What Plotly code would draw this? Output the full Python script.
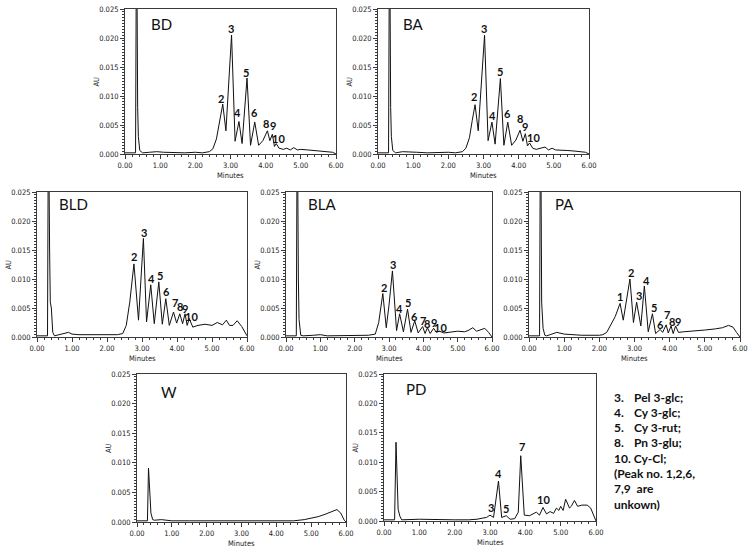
import plotly.graph_objects as go

FIG_W, FIG_H = 750, 551

# ---------------- data (retention time in minutes, absorbance in AU) ----------------
bd_t = [0.00, 0.20, 0.30, 0.32, 0.34, 0.36, 0.38, 0.42, 0.50, 0.70,
        0.90, 1.10, 1.40, 1.70, 2.00, 2.20, 2.40, 2.50, 2.60, 2.70,
        2.78, 2.87, 2.95, 3.03, 3.13, 3.24, 3.33, 3.47, 3.57, 3.69,
        3.80, 3.92, 4.05, 4.12, 4.19, 4.25, 4.30, 4.38, 4.50, 4.60,
        4.70, 4.80, 4.90, 5.00, 5.20, 5.40, 5.60, 5.80, 5.90, 6.00]
bd_au = [0.0002, 0.0002, 0.0002, 0.0300, 0.0300, 0.0080, 0.0030, 0.0006, 0.0002, 0.0003,
         0.0004, 0.0003, 0.0002, 0.0002, 0.0003, 0.0002, 0.0004, 0.0009, 0.0026, 0.0056,
         0.0086, 0.0040, 0.0120, 0.0205, 0.0022, 0.0056, 0.0018, 0.0131, 0.0015, 0.0055,
         0.0015, 0.0023, 0.0040, 0.0023, 0.0034, 0.0013, 0.0018, 0.0010, 0.0008, 0.0010,
         0.0007, 0.0011, 0.0007, 0.0008, 0.0007, 0.0006, 0.0005, 0.0004, 0.0003, 0.0000]
bd_peaks = ["2", "3", "4", "5", "6", "8", "9", "10"]
bd_peak_t = [2.72, 3.02, 3.20, 3.45, 3.67, 4.00, 4.20, 4.37]
bd_peak_au = [0.0096, 0.0216, 0.0071, 0.0141, 0.0071, 0.0052, 0.0049, 0.0026]

ba_t = [0.00, 0.20, 0.30, 0.32, 0.34, 0.36, 0.38, 0.42, 0.50, 0.70,
        0.90, 1.10, 1.40, 1.70, 2.00, 2.20, 2.40, 2.50, 2.60, 2.68,
        2.76, 2.85, 2.95, 3.03, 3.13, 3.24, 3.33, 3.48, 3.58, 3.69,
        3.80, 3.92, 4.04, 4.12, 4.19, 4.25, 4.31, 4.40, 4.50, 4.60,
        4.75, 4.85, 4.95, 5.05, 5.20, 5.40, 5.60, 5.80, 5.90, 6.00]
ba_au = [0.0002, 0.0002, 0.0002, 0.0300, 0.0300, 0.0080, 0.0030, 0.0006, 0.0002, 0.0004,
         0.0003, 0.0003, 0.0002, 0.0003, 0.0003, 0.0002, 0.0004, 0.0010, 0.0028, 0.0058,
         0.0085, 0.0040, 0.0125, 0.0205, 0.0023, 0.0055, 0.0017, 0.0130, 0.0015, 0.0055,
         0.0015, 0.0024, 0.0041, 0.0022, 0.0035, 0.0014, 0.0019, 0.0010, 0.0008, 0.0010,
         0.0012, 0.0007, 0.0010, 0.0007, 0.0007, 0.0006, 0.0005, 0.0004, 0.0003, 0.0000]
ba_peaks = ["2", "3", "4", "5", "6", "8", "9", "10"]
ba_peak_t = [2.74, 3.01, 3.25, 3.48, 3.68, 4.03, 4.18, 4.41]
ba_peak_au = [0.0099, 0.0216, 0.0067, 0.0142, 0.0070, 0.0061, 0.0047, 0.0028]

bld_t = [0.00, 0.20, 0.30, 0.32, 0.34, 0.36, 0.38, 0.41, 0.45, 0.50,
         0.70, 0.90, 1.00, 1.20, 1.60, 2.00, 2.30, 2.45, 2.55, 2.65,
         2.77, 2.90, 2.97, 3.04, 3.13, 3.25, 3.35, 3.48, 3.58, 3.68,
         3.78, 3.90, 3.99, 4.08, 4.16, 4.23, 4.29, 4.35, 4.45, 4.60,
         4.80, 5.00, 5.15, 5.30, 5.41, 5.50, 5.60, 5.72, 5.85, 6.00]
bld_au = [0.0002, 0.0002, 0.0002, 0.0300, 0.0300, 0.0150, 0.0060, 0.0050, 0.0008, 0.0002,
          0.0005, 0.0008, 0.0005, 0.0004, 0.0004, 0.0004, 0.0004, 0.0006, 0.0020, 0.0060,
          0.0126, 0.0029, 0.0100, 0.0170, 0.0026, 0.0090, 0.0023, 0.0095, 0.0022, 0.0066,
          0.0020, 0.0043, 0.0024, 0.0040, 0.0023, 0.0040, 0.0020, 0.0032, 0.0017, 0.0020,
          0.0022, 0.0020, 0.0025, 0.0021, 0.0029, 0.0020, 0.0020, 0.0028, 0.0018, 0.0002]
bld_peaks = ["2", "3", "4", "5", "6", "7", "8", "9", "10"]
bld_peak_t = [2.77, 3.07, 3.28, 3.51, 3.70, 3.94, 4.09, 4.23, 4.42]
bld_peak_au = [0.0138, 0.0181, 0.0101, 0.0106, 0.0078, 0.0059, 0.0052, 0.0050, 0.0036]

bla_t = [0.00, 0.20, 0.30, 0.32, 0.34, 0.36, 0.38, 0.43, 0.50, 0.80,
         1.00, 1.20, 1.60, 2.00, 2.40, 2.60, 2.70, 2.82, 2.92, 3.00,
         3.10, 3.22, 3.31, 3.42, 3.54, 3.64, 3.75, 3.85, 3.98, 4.05,
         4.12, 4.20, 4.30, 4.38, 4.47, 4.60, 4.80, 5.00, 5.20, 5.30,
         5.44, 5.55, 5.65, 5.79, 5.90, 6.00]
bla_au = [0.0002, 0.0002, 0.0002, 0.0300, 0.0300, 0.0100, 0.0030, 0.0003, 0.0002, 0.0003,
          0.0004, 0.0002, 0.0002, 0.0002, 0.0003, 0.0005, 0.0025, 0.0075, 0.0016, 0.0055,
          0.0114, 0.0011, 0.0040, 0.0009, 0.0048, 0.0008, 0.0028, 0.0007, 0.0018, 0.0006,
          0.0016, 0.0006, 0.0015, 0.0008, 0.0010, 0.0007, 0.0008, 0.0010, 0.0009, 0.0011,
          0.0016, 0.0010, 0.0012, 0.0015, 0.0008, 0.0000]
bla_peaks = ["2", "3", "4", "5", "6", "7", "8", "9", "10"]
bla_peak_t = [2.85, 3.12, 3.31, 3.54, 3.73, 3.98, 4.12, 4.30, 4.50]
bla_peak_au = [0.0085, 0.0125, 0.0050, 0.0059, 0.0036, 0.0029, 0.0023, 0.0025, 0.0016]

pa_t = [0.00, 0.20, 0.30, 0.32, 0.34, 0.36, 0.40, 0.45, 0.50, 0.60,
        0.79, 1.00, 1.20, 1.50, 2.00, 2.10, 2.21, 2.35, 2.45, 2.59,
        2.68, 2.87, 2.97, 3.06, 3.18, 3.28, 3.39, 3.51, 3.60, 3.73,
        3.80, 3.90, 3.96, 4.04, 4.10, 4.17, 4.25, 4.40, 4.70, 5.00,
        5.30, 5.50, 5.67, 5.80, 5.90, 6.00]
pa_au = [0.0002, 0.0002, 0.0002, 0.0300, 0.0300, 0.0060, 0.0015, 0.0003, 0.0002, 0.0004,
         0.0008, 0.0005, 0.0004, 0.0003, 0.0003, 0.0004, 0.0008, 0.0025, 0.0035, 0.0058,
         0.0029, 0.0100, 0.0025, 0.0060, 0.0019, 0.0088, 0.0009, 0.0040, 0.0006, 0.0013,
         0.0008, 0.0021, 0.0007, 0.0019, 0.0006, 0.0019, 0.0008, 0.0009, 0.0010, 0.0012,
         0.0014, 0.0016, 0.0020, 0.0017, 0.0008, 0.0000]
pa_peaks = ["1", "2", "3", "4", "5", "6", "7", "8", "9"]
pa_peak_t = [2.59, 2.89, 3.12, 3.35, 3.55, 3.75, 3.91, 4.06, 4.23]
pa_peak_au = [0.0069, 0.0111, 0.0071, 0.0098, 0.0051, 0.0022, 0.0038, 0.0027, 0.0027]

w_t = [0.00, 0.20, 0.30, 0.33, 0.36, 0.40, 0.45, 0.50, 0.70, 0.80,
       1.00, 1.50, 2.00, 2.50, 3.00, 3.50, 4.00, 4.50, 4.80, 5.00,
       5.20, 5.40, 5.60, 5.74, 5.85, 5.95, 6.00]
w_au = [0.0002, 0.0002, 0.0002, 0.0091, 0.0050, 0.0015, 0.0004, 0.0003, 0.0004, 0.0003,
        0.0002, 0.0002, 0.0002, 0.0002, 0.0001, 0.0001, 0.0001, 0.0002, 0.0004, 0.0006,
        0.0009, 0.0013, 0.0018, 0.0021, 0.0015, 0.0003, 0.0000]
w_peaks = []
w_peak_t = []
w_peak_au = []

pd_t = [0.00, 0.20, 0.30, 0.34, 0.37, 0.40, 0.45, 0.50, 1.00, 1.50,
        2.00, 2.40, 2.63, 2.80, 2.90, 3.00, 3.10, 3.24, 3.33, 3.46,
        3.57, 3.70, 3.80, 3.87, 3.97, 4.12, 4.20, 4.31, 4.40, 4.50,
        4.60, 4.70, 4.80, 4.88, 4.95, 5.00, 5.07, 5.14, 5.25, 5.30,
        5.39, 5.48, 5.60, 5.75, 5.85, 5.95, 6.00]
pd_au = [0.0002, 0.0002, 0.0002, 0.0134, 0.0060, 0.0020, 0.0008, 0.0002, 0.0003, 0.0002,
         0.0002, 0.0002, 0.0003, 0.0005, 0.0006, 0.0010, 0.0006, 0.0068, 0.0006, 0.0009,
         0.0003, 0.0004, 0.0015, 0.0111, 0.0010, 0.0009, 0.0011, 0.0015, 0.0010, 0.0023,
         0.0012, 0.0016, 0.0013, 0.0022, 0.0018, 0.0025, 0.0018, 0.0037, 0.0022, 0.0025,
         0.0035, 0.0025, 0.0027, 0.0027, 0.0022, 0.0006, 0.0000]
pd_peaks = ["3", "4", "5", "7", "10"]
pd_peak_t = [3.02, 3.24, 3.46, 3.90, 4.51]
pd_peak_au = [0.0023, 0.0080, 0.0021, 0.0126, 0.0037]

x_ticks = [0, 1, 2, 3, 4, 5, 6]
x_tick_labels = ["0.00", "1.00", "2.00", "3.00", "4.00", "5.00", "6.00"]
y_ticks = [0.000, 0.005, 0.010, 0.015, 0.020, 0.025]
y_tick_labels = ["0.000", "0.005", "0.010", "0.015", "0.020", "0.025"]

legend_nums = ["3.", "4.", "5.", "8."]
legend_names = ["Pel 3-glc;", "Cy 3-glc;", "Cy 3-rut;", "Pn 3-glu;"]
legend_extra = ["10. Cy-Cl;", "(Peak no. 1,2,6,", "7,9  are", "unkown)"]

panels = [
    ("BD", bd_t, bd_au, bd_peaks, bd_peak_t, bd_peak_au),
    ("BA", ba_t, ba_au, ba_peaks, ba_peak_t, ba_peak_au),
    ("BLD", bld_t, bld_au, bld_peaks, bld_peak_t, bld_peak_au),
    ("BLA", bla_t, bla_au, bla_peaks, bla_peak_t, bla_peak_au),
    ("PA", pa_t, pa_au, pa_peaks, pa_peak_t, pa_peak_au),
    ("W", w_t, w_au, w_peaks, w_peak_t, w_peak_au),
    ("PD", pd_t, pd_au, pd_peaks, pd_peak_t, pd_peak_au),
]

# ---------------- layout (pixel boxes: left, right, top, bottom) ----------------
boxes = {
    "BD": (125, 336, 9, 154),
    "BA": (378, 589, 9, 154),
    "BLD": (37, 247, 192, 337),
    "BLA": (286, 492, 192, 337),
    "PA": (529, 740, 192, 337),
    "W": (137, 346, 374, 522),
    "PD": (384, 596, 374, 521),
}
with_au_title = {"BD", "BA", "BLD", "BLA", "W", "PD"}
name_x = {"BD": 0.115, "BA": 0.11, "BLD": 0.095, "BLA": 0.097, "PA": 0.114, "W": 0.105, "PD": 0.094}
name_y = {"BD": 0.895, "BA": 0.895, "BLD": 0.92, "BLA": 0.92, "PA": 0.92, "W": 0.88, "PD": 0.90}

AX_COL = "#3a3a3a"
TICK_FONT = dict(family="Liberation Sans Narrow, DejaVu Sans Condensed, Arial Narrow, sans-serif",
                 size=7.5, color="#222")
LBL_FONT = dict(family="Lato, Carlito, Open Sans, sans-serif", size=11, color="#111")

fig = go.Figure()
for i, (name, t, au, pk, pk_t, pk_au) in enumerate(panels, start=1):
    sfx = "" if i == 1 else str(i)
    xa, ya = f"x{sfx}", f"y{sfx}"
    L, R, T, B = boxes[name]
    fig.add_trace(go.Scatter(x=t, y=au, mode="lines", line=dict(color="#111", width=1),
                             xaxis=xa, yaxis=ya, showlegend=False, hoverinfo="skip"))
    fig.layout[f"xaxis{sfx}"] = dict(
        domain=[L / FIG_W, R / FIG_W], anchor=ya, range=[0, 6],
        tickvals=x_ticks, ticktext=x_tick_labels, tickfont=TICK_FONT,
        showline=True, mirror=True, linecolor=AX_COL, linewidth=1,
        ticks="outside", ticklen=4, tickcolor=AX_COL, tickwidth=1,
        minor=dict(dtick=0.2, tick0=0, ticks="outside", ticklen=2, tickcolor=AX_COL),
        showgrid=False, zeroline=False, automargin=False, fixedrange=True)
    fig.layout[f"yaxis{sfx}"] = dict(
        domain=[1 - B / FIG_H, 1 - T / FIG_H], anchor=xa, range=[0, 0.025],
        tickvals=y_ticks, ticktext=y_tick_labels, tickfont=TICK_FONT,
        showline=True, mirror=True, linecolor=AX_COL, linewidth=1,
        ticks="outside", ticklen=4, tickcolor=AX_COL, tickwidth=1,
        minor=dict(dtick=0.0005, tick0=0, ticks="outside", ticklen=2, tickcolor=AX_COL),
        showgrid=False, zeroline=False, automargin=False, fixedrange=True)
    for s, px, py in zip(pk, pk_t, pk_au):
        fig.add_annotation(x=px, y=py, xref=xa, yref=ya, text=f"<b>{s}</b>", showarrow=False,
                           font=LBL_FONT, xanchor="center", yanchor="middle")
    fig.add_annotation(text=name, xref=f"{xa} domain", yref=f"{ya} domain",
                       x=name_x[name], y=name_y[name], xanchor="left", yanchor="middle",
                       showarrow=False, font=dict(family="Lato, Carlito, sans-serif", size=15, color="#111"))
    fig.add_annotation(text="Minutes", xref=f"{xa} domain", yref="paper",
                       x=0.5, y=1 - (B + 21) / FIG_H, xanchor="center", yanchor="middle",
                       showarrow=False, font=TICK_FONT)
    if name in with_au_title:
        fig.add_annotation(text="AU", xref="paper", yref=f"{ya} domain",
                           x=(L - 29) / FIG_W, y=0.5, textangle=-90, xanchor="center", yanchor="middle",
                           showarrow=False, font=TICK_FONT)

# legend text block
LEG_FONT = dict(family="Lato, Carlito, Open Sans, sans-serif", size=12, color="#111")
line_y0, line_dy = 397, 15.3
for k, (num, nm) in enumerate(zip(legend_nums, legend_names)):
    yy = 1 - (line_y0 + k * line_dy) / FIG_H
    fig.add_annotation(text=f"<b>{num}</b>", xref="paper", yref="paper", x=612 / FIG_W, y=yy,
                       xanchor="left", yanchor="middle", showarrow=False, font=LEG_FONT)
    fig.add_annotation(text=f"<b>{nm}</b>", xref="paper", yref="paper", x=632 / FIG_W, y=yy,
                       xanchor="left", yanchor="middle", showarrow=False, font=LEG_FONT)
for k, txt in enumerate(legend_extra):
    yy = 1 - (line_y0 + (k + len(legend_nums)) * line_dy) / FIG_H
    fig.add_annotation(text=f"<b>{txt}</b>", xref="paper", yref="paper", x=612 / FIG_W, y=yy,
                       xanchor="left", yanchor="middle", showarrow=False, font=LEG_FONT)

fig.update_layout(width=FIG_W, height=FIG_H, margin=dict(l=0, r=0, t=0, b=0),
                  paper_bgcolor="white", plot_bgcolor="white", template="none",
                  showlegend=False)
fig.write_html("out.html", config={"displayModeBar": False},
               post_script="document.body.style.margin='0';")
